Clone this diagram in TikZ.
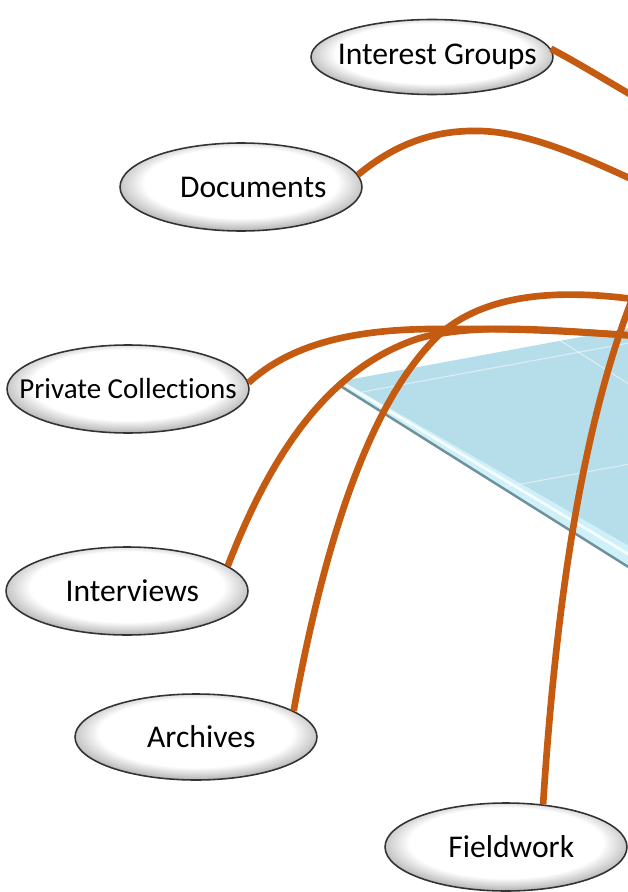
\documentclass[tikz,border=0pt]{standalone}
\usepackage{fontspec}
\setmainfont{Carlito}[Ligatures=NoCommon]
\usetikzlibrary{shapes.geometric}
\definecolor{linkorange}{RGB}{197,90,17}
\definecolor{planeblue}{RGB}{182,222,234}
\definecolor{planeedge}{RGB}{206,240,248}
\definecolor{planeshadow}{RGB}{110,145,155}
\pgfdeclareradialshading{bevel}{\pgfpoint{0bp}{4bp}}{color(0bp)=(white); color(20bp)=(white); color(25bp)=(black!22); color(29bp)=(black!42); color(50bp)=(black!42)}
\begin{document}
\begin{tikzpicture}
    [x=0.02cm, y=-0.02cm,
    topic/.style={ellipse, shading=bevel, draw=black!80, line width=0.9pt,
        minimum width=4.84cm, minimum height=1.76cm, inner sep=0pt,
        font=\fontsize{18}{21}\selectfont},
    link/.style={draw=linkorange, line width=3.8pt},
    grid/.style={draw=white, line width=0.6pt, opacity=0.5}]
    \useasboundingbox (0,0) rectangle (628,892);
    \clip (0,0) rectangle (628,892);
    % plane
    \fill[planeblue] (342,381) -- (700,315) -- (700,587) -- cycle;
    \fill[planeedge] (342,381) -- (700,587) -- (700,612) -- (342,387) -- cycle;
    \draw[planeshadow, line width=1.4pt] (342,387) -- (700,612);
    \draw[white, line width=1.6pt, opacity=0.8] (346,385) -- (700,597);
    \draw[grid] (362,392) -- (700,330);
    \draw[grid] (505,487) -- (700,451);
    \draw[grid] (556,338) -- (700,429);

    \node[topic, minimum height=1.5cm] (groups) at (432,57) {\makebox[0pt]{\hspace{6pt}Interest Groups}};
    \node[topic] (docs) at (241,187) {\makebox[0pt]{\hspace{14pt}Documents}};
    \node[topic, font=\fontsize{16.5}{19}\selectfont] (private) at (128,389) {\makebox[0pt]{Private Collections}};
    \node[topic] (interviews) at (127,591) {\makebox[0pt]{\hspace{6pt}Interviews}};
    \node[topic, minimum height=1.72cm] (archives) at (196,737) {\makebox[0pt]{\hspace{6pt}Archives}};
    \node[topic] (fieldwork) at (506,847) {\makebox[0pt]{\hspace{6pt}Fieldwork}};

    \coordinate (groups-end) at (640,100);
    \coordinate (docs-end) at (640,183);
    \coordinate (merge-end) at (640,336);
    \coordinate (archives-end) at (640,300);
    \coordinate (fieldwork-end) at (640,280);

    \draw[link] (groups.4) .. controls (580,64) and (612,84) .. (groups-end);
    \draw[link] (docs.6) .. controls (400,140) and (440,130) .. (480,131)
        .. controls (530,132) and (590,160) .. (docs-end);
    \draw[link] (private.3) .. controls (290,345) and (350,330) .. (430,329)
        .. controls (520,328) and (580,332) .. (merge-end);
    \draw[link] (interviews.14) .. controls (265,470) and (320,370) .. (420,338)
        .. controls (480,322) and (560,331) .. (merge-end);
    \draw[link] (archives.15) .. controls (325,540) and (370,400) .. (440,334)
        .. controls (490,290) and (570,290) .. (archives-end);
    \draw[link] (fieldwork.49) .. controls (555,620) and (580,420) .. (fieldwork-end);
\end{tikzpicture}
\end{document}
